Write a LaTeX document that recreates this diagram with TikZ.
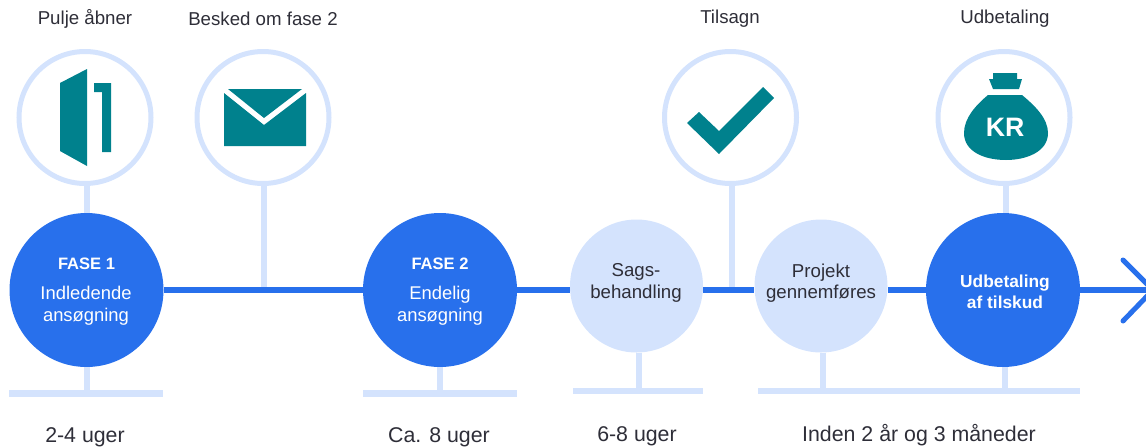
\documentclass[tikz,border=0pt]{standalone}
\usepackage{fontspec}
\setmainfont{Liberation Sans}
\definecolor{pale}{HTML}{D4E3FD}
\definecolor{strong}{HTML}{2870EC}
\definecolor{teal}{HTML}{00818D}
\definecolor{ink}{HTML}{2E2E38}
\tikzset{
  x=0.75pt,y=-0.75pt,
  stem/.style={draw=pale,line width=4.5pt},
  base/.style={draw=pale,line width=5.25pt},
  thinbase/.style={draw=pale,line width=4.5pt},
  flow/.style={draw=strong,line width=4.5pt},
  tipline/.style={draw=strong,line width=3.75pt,line cap=round,line join=miter},
  bigdot/.style={circle,fill=strong,draw=none,minimum size=115.5pt,inner sep=0pt},
  softdot/.style={circle,fill=pale,draw=none,minimum size=99.75pt,inner sep=0pt},
  ring/.style={circle,draw=pale,line width=3.75pt,fill=white,minimum size=99pt,inner sep=0pt},
  toplabel/.style={text=ink,font=\fontsize{14}{17}\selectfont},
  botlabel/.style={text=ink,font=\fontsize{16}{19}\selectfont},
  whitehead/.style={text=white,font=\fontsize{12.4}{15}\selectfont\bfseries},
  whitebody/.style={text=white,align=center,font=\fontsize{13.8}{16.5}\selectfont},
  darkbody/.style={text=ink,align=center,font=\fontsize{14}{16}\selectfont},
  whitebold/.style={text=white,align=center,font=\fontsize{13}{16}\selectfont\bfseries},
  glyph/.style={fill=teal,draw=none},
}
\begin{document}
\begin{tikzpicture}
\useasboundingbox (0,0) rectangle (1146,447);
% free ends
\coordinate (tip) at (1153,290);
\coordinate (a1) at (1123,260);
\coordinate (a2) at (1123,321);
\coordinate (b1l) at (9,393.5); \coordinate (b1r) at (163,393.5);
\coordinate (b2l) at (363,393.5); \coordinate (b2r) at (517,393.5);
\coordinate (b3l) at (573,391); \coordinate (b3r) at (703,391);
\coordinate (b4l) at (758,391); \coordinate (b4r) at (1080,391);
\coordinate (s1) at (87,392); \coordinate (s2) at (440,392);
\coordinate (s3) at (639,390); \coordinate (s4) at (823,390); \coordinate (s5) at (1005,390);
\coordinate (u1) at (87,200); \coordinate (u5) at (1006,200);
\coordinate (t2) at (264,290); \coordinate (t3) at (732,290);
% nodes
\node[bigdot] (n1) at (86.5,290) {};
\node[bigdot] (n2) at (440,290) {};
\node[softdot] (n3) at (636.5,286) {};
\node[softdot] (n4) at (821,286) {};
\node[bigdot] (n5) at (1003,290) {};
\node[ring] (r1) at (85,117.5) {};
\node[ring] (r2) at (263,117.5) {};
\node[ring] (r3) at (730.5,117.5) {};
\node[ring] (r4) at (1004,117.5) {};
% connectors
\draw[stem] (r2.south -| t2) -- (t2);
\draw[stem] (r3.south -| t3) -- (t3);
\draw[stem] (r1.south -| u1) -- (n1.north -| u1);
\draw[stem] (r4.south -| u5) -- (n5.north -| u5);
\draw[stem] (n1.south -| s1) -- (s1);
\draw[stem] (n2.south -| s2) -- (s2);
\draw[stem] (n3.south -| s3) -- (s3);
\draw[stem] (n4.south -| s4) -- (s4);
\draw[stem] (n5.south -| s5) -- (s5);
\draw[base] (b1l) -- (b1r);
\draw[base] (b2l) -- (b2r);
\draw[thinbase] (b3l) -- (b3r);
\draw[thinbase] (b4l) -- (b4r);
\draw[flow] (n1.east) -- (n2.west);
\draw[flow] (n2.east) -- (n3.west |- n2.east);
\draw[flow] (n3.east |- n2.east) -- (n4.west |- n2.east);
\draw[flow] (n4.east |- n2.east) -- (n5.west);
\draw[flow] (n5.east) -- (tip);
\draw[tipline] (a1) -- (tip) -- (a2);
% texts in circles
\node[whitehead] (f1) at (86.5,264) {FASE 1};
\node[whitebody] (f1b) at (86,306) {Indledende\\ansøgning};
\node[whitehead] (f2) at (440,264) {FASE 2};
\node[whitebody] (f2b) at (440,306) {Endelig\\ansøgning};
\node[darkbody] (t3x) at (636,283) {Sags-\\behandling};
\node[darkbody] (t4x) at (821,283) {Projekt\\gennemføres};
\node[whitebold] (t5x) at (1005,292) {Udbetaling\\af tilskud};
% top labels
\node[toplabel] (l1) at (85,19) {Pulje åbner};
\node[toplabel] (l2) at (263,19) {Besked om fase 2};
\node[toplabel] (l3) at (730,19) {Tilsagn};
\node[toplabel] (l4) at (1005,19) {Udbetaling};
% bottom labels
\node[botlabel] (d1) at (85,437) {2-4 uger};
\node[botlabel] (d2) at (439,437) {Ca. 8 uger};
\node[botlabel] (d3) at (637,436) {6-8 uger};
\node[botlabel] (d4) at (919,435) {Inden 2 år og 3 måneder};
% door icon
\path[glyph] (60,83) -- (87,69) -- (87,166) -- (60,151) -- cycle;
\path[glyph] (94,83) -- (111,83) -- (111,152) -- (102,152) -- (102,92) -- (94,92) -- cycle;
% envelope icon
\path[glyph] (228,89) -- (302,89) -- (264,118) -- cycle;
\path[glyph] (224,93) -- (264,125) -- (306,93) -- (306,146) -- (224,146) -- cycle;
% check icon
\path[glyph] (687,123) -- (699,112) -- (719,131) -- (763,87) -- (774,98) -- (719,154) -- cycle;
% money bag icon
\path[glyph] (993,73) -- (1017,73) -- (1017,79) -- (1022,79) -- (1019,89) -- (993,89) -- (989,79) -- (993,79) -- cycle;
\path[glyph] (988,95) -- (1022,95) .. controls (1034,105) and (1048,118) .. (1048,133) .. controls (1048,152) and (1026,160) .. (1006,160) .. controls (985,160) and (964,152) .. (964,133) .. controls (964,118) and (976,105) .. (988,95) -- cycle;
\node[text=white,font=\fontsize{20}{20}\selectfont\bfseries] (kr) at (1005,127) {KR};
\end{tikzpicture}
\end{document}
